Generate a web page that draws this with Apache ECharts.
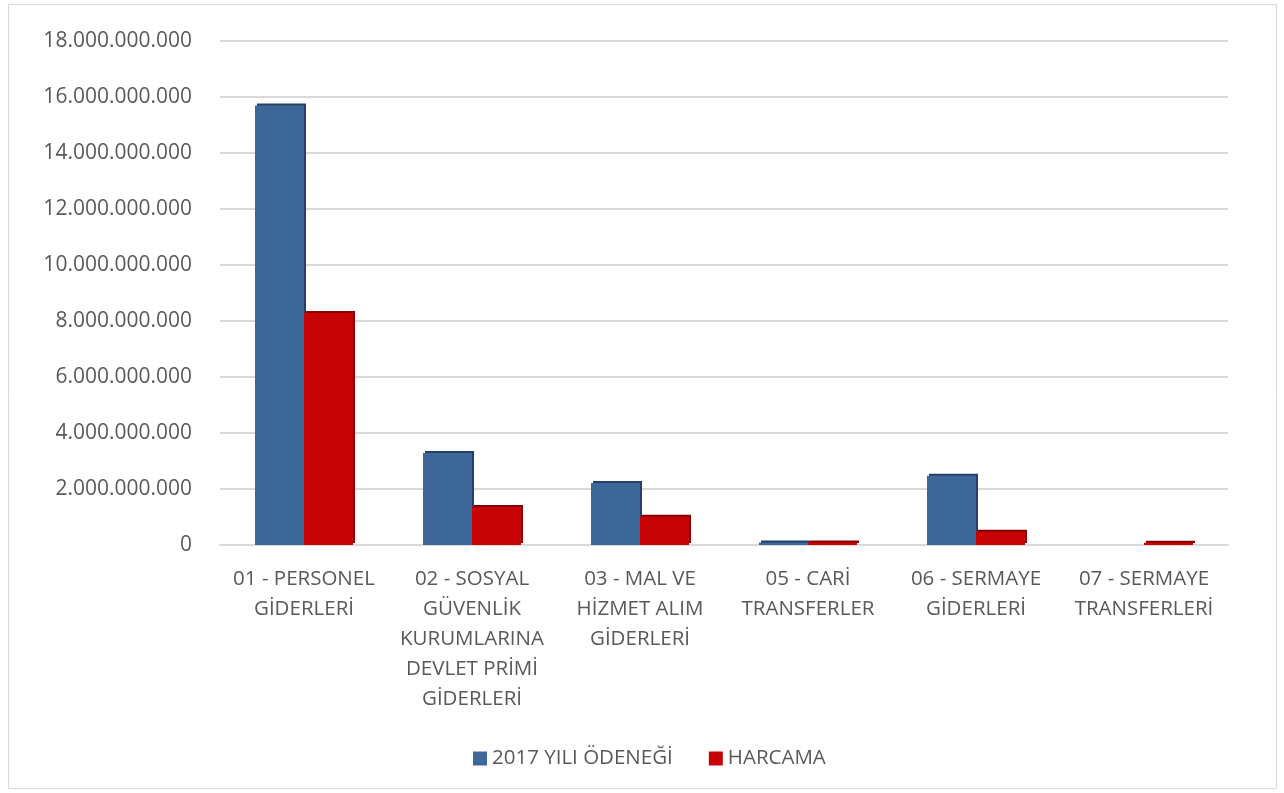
<!DOCTYPE html>
<html><head><meta charset="utf-8">
<script src="https://cdn.jsdelivr.net/npm/echarts@6/dist/echarts.min.js"></script>
<style>html,body{margin:0;padding:0;background:#fff}#c{width:1284px;height:793px}</style>
</head><body><div id="c"></div>
<script>
const categories = ["01 - PERSONEL\nGİDERLERİ", "02 - SOSYAL\nGÜVENLİK\nKURUMLARINA\nDEVLET PRİMİ\nGİDERLERİ", "03 - MAL VE\nHİZMET ALIM\nGİDERLERİ", "05 - CARİ\nTRANSFERLER", "06 - SERMAYE\nGİDERLERİ", "07 - SERMAYE\nTRANSFERLERİ"];
const seriesNames = ["2017 YILI ÖDENEĞİ", "HARCAMA"];
const odenek = [15700000000, 3290000000, 2210000000, 90000000, 2470000000, 0];
const harcama = [8290000000, 1360000000, 1010000000, 90000000, 470000000, 80000000];
const yTicks = [0, 2000000000, 4000000000, 6000000000, 8000000000, 10000000000, 12000000000, 14000000000, 16000000000, 18000000000];

const chart = echarts.init(document.getElementById('c'), null, {renderer: 'canvas'});
const fmt = v => String(Math.round(v)).replace(/\B(?=(\d{3})+(?!\d))/g, '.');
const txt = '#595959';
chart.setOption({
  animation: false,
  graphic: [{type: 'rect', shape: {x: 8.5, y: 4.5, width: 1268, height: 784}, style: {fill: 'none', stroke: '#d9d9d9', lineWidth: 1}, z: -1}],
  grid: {left: 220, top: 41, width: 1008, height: 504},
  legend: {bottom: 19, left: 468, itemWidth: 14, itemHeight: 14, itemGap: 36, icon: 'rect',
    textStyle: {color: txt, fontSize: 20.5, fontFamily: 'Open Sans'}, data: seriesNames},
  xAxis: {type: 'category', data: categories,
    axisLine: {show: true, lineStyle: {color: '#d9d9d9', width: 2}}, axisTick: {show: false},
    axisLabel: {interval: 0, color: txt, fontSize: 20.5, lineHeight: 30, fontFamily: 'Open Sans', margin: 19}},
  yAxis: {type: 'value', min: yTicks[0], max: yTicks[yTicks.length - 1], interval: 2000000000,
    axisLine: {show: false}, axisTick: {show: false},
    splitLine: {lineStyle: {color: '#d9d9d9', width: 2}},
    axisLabel: {color: txt, fontSize: 21, fontFamily: 'Open Sans', margin: 28, formatter: fmt}},
  series: [
    {name: seriesNames[0], type: 'bar', data: odenek, barWidth: 49, barGap: '0%',
      itemStyle: {color: '#3d6798', shadowColor: '#24406a', shadowOffsetX: 2, shadowOffsetY: -2, shadowBlur: 0}},
    {name: seriesNames[1], type: 'bar', data: harcama, barWidth: 49,
      itemStyle: {color: '#c60405', shadowColor: '#8a0000', shadowOffsetX: 2, shadowOffsetY: -2, shadowBlur: 0}}
  ]
});
</script></body></html>
